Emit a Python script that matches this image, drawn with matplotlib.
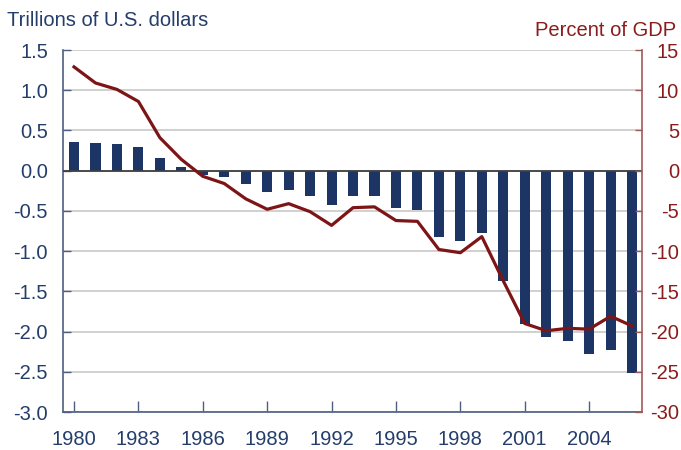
import numpy as np
import matplotlib
matplotlib.use("Agg")
import matplotlib.pyplot as plt

plt.rcParams['font.family'] = ['Liberation Sans', 'DejaVu Sans']
plt.rcParams['axes.unicode_minus'] = False

years = list(range(1980, 2007))
# trillions of U.S. dollars (bars, left axis)
dollars = [0.36, 0.35, 0.33, 0.30, 0.16, 0.05, -0.05, -0.08, -0.17, -0.27,
           -0.24, -0.31, -0.43, -0.31, -0.32, -0.47, -0.49, -0.82, -0.88, -0.77,
           -1.37, -1.91, -2.07, -2.12, -2.28, -2.23, -2.52]
# percent of GDP (line, right axis)
pct_gdp = [12.9, 10.9, 10.1, 8.6, 4.1, 1.4, -0.7, -1.6, -3.5, -4.8,
           -4.1, -5.1, -6.8, -4.6, -4.5, -6.2, -6.3, -9.8, -10.2, -8.2,
           -13.7, -19.0, -19.9, -19.6, -19.7, -18.1, -19.3]
xtick_years = list(range(1980, 2006, 3))

navy = '#1c3564'
navy_text = '#253d6b'
spine_blue = '#4d5e80'
dark_red = '#7d1416'
red_text = '#8b1c1c'
spine_red = '#a05a5a'
fs = 14.5

fig = plt.figure(figsize=(6.81, 4.5), dpi=100)
ax = fig.add_axes([63.3 / 681, 1 - 412 / 450, 578.4 / 681, 362 / 450])

ax.bar(years, dollars, width=0.47, color=navy, zorder=3)
ax.axhline(0, color='#404040', lw=1.3, zorder=4)
ax.set_xlim(1979.5, 2006.45)
ax.set_ylim(-3.0, 1.5)
ax.set_yticks(np.arange(-3.0, 1.51, 0.5))
ax.set_yticklabels([f'{v:.1f}' for v in np.arange(-3.0, 1.51, 0.5)])
ax.set_xticks(xtick_years)
ax.set_xticklabels([str(y) for y in xtick_years])
ax.grid(axis='y', color='#c8c8c8', lw=1.2, zorder=0)
ax.set_axisbelow(True)

for s in ['top', 'right']:
    ax.spines[s].set_visible(False)
for s in ['left', 'bottom']:
    ax.spines[s].set_color(spine_blue)
    ax.spines[s].set_linewidth(1.2)
ax.tick_params(axis='x', direction='in', length=8, width=1, color=spine_blue,
               labelsize=fs, labelcolor=navy_text, pad=13)
ax.tick_params(axis='y', direction='in', length=5.5, width=1, color=spine_blue,
               labelsize=fs, labelcolor=navy_text, pad=11)

ax2 = ax.twinx()
ax2.plot(years, pct_gdp, color=dark_red, lw=2.3, zorder=5)
ax2.set_ylim(-30, 15)
ax2.set_yticks(np.arange(-30, 16, 5))
ax2.set_yticklabels([str(v) for v in range(-30, 16, 5)], ha='right')
for s in ['top', 'left', 'bottom']:
    ax2.spines[s].set_visible(False)
ax2.spines['right'].set_color(spine_red)
ax2.spines['right'].set_linewidth(1.2)
ax2.tick_params(axis='y', direction='in', length=5, width=1, color=spine_red,
                labelsize=fs, labelcolor=red_text, pad=27)

fig.text(7 / 681, 1 - 26 / 450, 'Trillions of U.S. dollars', color=navy_text,
         fontsize=fs, va='baseline', ha='left')
fig.text(676 / 681, 1 - 35.7 / 450, 'Percent of GDP', color=red_text,
         fontsize=fs, va='baseline', ha='right')

fig.savefig('out.png', dpi=100)
